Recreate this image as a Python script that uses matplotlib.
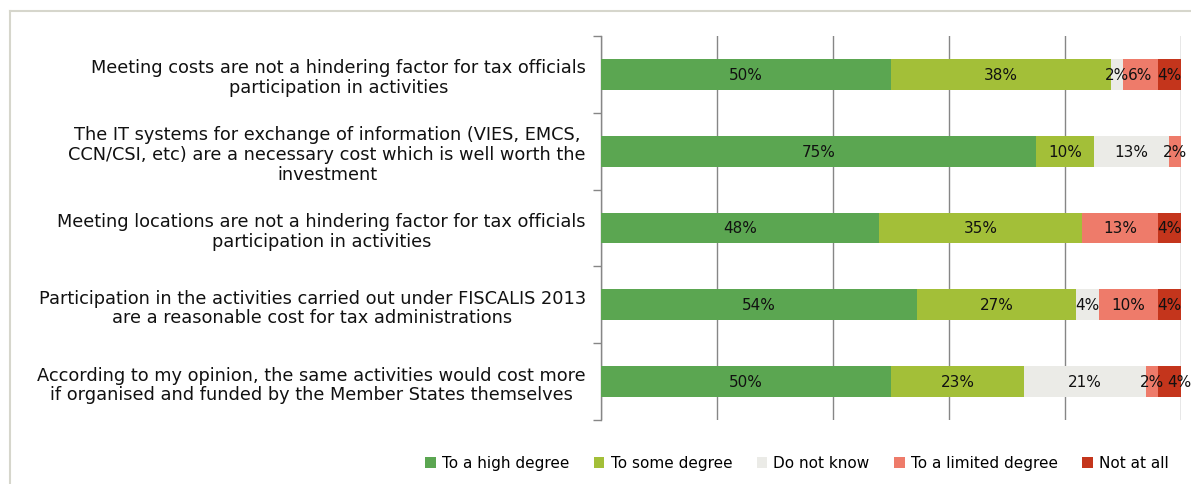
import matplotlib
matplotlib.use("Agg")
import matplotlib.pyplot as plt
from matplotlib.patches import Patch
from matplotlib.lines import Line2D
import numpy as np

categories = [
    "Meeting costs are not a hindering factor for tax officials\nparticipation in activities",
    "The IT systems for exchange of information (VIES, EMCS,\nCCN/CSI, etc) are a necessary cost which is well worth the\ninvestment",
    "Meeting locations are not a hindering factor for tax officials\nparticipation in activities",
    "Participation in the activities carried out under FISCALIS 2013\nare a reasonable cost for tax administrations",
    "According to my opinion, the same activities would cost more\nif organised and funded by the Member States themselves",
]
series_names = ["To a high degree", "To some degree", "Do not know",
                "To a limited degree", "Not at all"]
high_degree = [50, 75, 48, 54, 50]
some_degree = [38, 10, 35, 27, 23]
do_not_know = [2, 13, 0, 4, 21]
limited_degree = [6, 2, 13, 10, 2]
not_at_all = [4, 0, 4, 4, 4]

colors = ["#5BA651", "#A3BF38", "#EBEBE7", "#EE7B6A", "#C4351C"]

W, H = 1191, 485
fig = plt.figure(figsize=(W / 100, H / 100), dpi=100)
fig.patch.set_facecolor("white")

# outer frame (top and left edges visible)
frame_col = "#D6D6CC"
fig.add_artist(Line2D([10 / W, 10 / W], [0, 1 - 12 / H], transform=fig.transFigure,
                      color=frame_col, lw=1.5))
fig.add_artist(Line2D([10 / W, 1], [1 - 12 / H, 1 - 12 / H], transform=fig.transFigure,
                      color=frame_col, lw=1.5))

ax = fig.add_axes([601 / W, 1 - 421 / H, 580 / W, 384 / H])

data = np.array([high_degree, some_degree, do_not_know, limited_degree, not_at_all], dtype=float)
# 100% stacked: each row is scaled to its total
totals = data.sum(axis=0)
shares = data / totals * 100

y = np.arange(len(categories))
left = np.zeros(len(categories))
for i in range(len(series_names)):
    ax.barh(y, shares[i], left=left, height=0.40, color=colors[i], zorder=3,
            label=series_names[i])
    for j in range(len(categories)):
        if data[i, j] > 0:
            # push a label right when the segment before it is very narrow
            dx = 0
            if i > 0 and 0 < data[i - 1, j] <= 2 and data[i, j] <= 4:
                dx = 7
            ax.annotate(f"{int(data[i, j])}%", (left[j] + shares[i, j] / 2, y[j]),
                        xytext=(dx, 0), textcoords="offset points",
                        ha="center", va="center", fontsize=11, color="#111111",
                        zorder=4, annotation_clip=False)
    left += shares[i]

ax.set_xlim(0, 100)
ax.set_ylim(len(categories) - 0.5, -0.5)
ax.set_xticks(np.arange(0, 101, 20))
ax.tick_params(axis="x", length=0, labelbottom=False)
ax.grid(axis="x", color="#868686", lw=1, zorder=0)
for s in ["top", "right", "bottom"]:
    ax.spines[s].set_visible(False)
ax.spines["left"].set_color("#868686")
ax.spines["left"].set_linewidth(1)

# category separators as ticks, labels at centres
ax.set_yticks(np.arange(-0.5, len(categories), 1), minor=False)
ax.set_yticklabels([])
ax.tick_params(axis="y", which="major", length=6, color="#868686", width=1)
ax.set_yticks(y, minor=True)
ax.set_yticklabels(categories, minor=True, fontsize=12.8, color="#111111",
                   linespacing=1.12)
ax.tick_params(axis="y", which="minor", length=0, pad=11)
for lab in ax.get_yticklabels(minor=True):
    lab.set_multialignment("center")

handles = [Patch(facecolor=c, edgecolor="none") for c in colors]
fig.legend(handles, series_names, loc="center", bbox_to_anchor=(797 / W, 1 - 464 / H),
           ncol=5, frameon=False, fontsize=11, handlelength=0.7, handleheight=0.7,
           handletextpad=0.4, columnspacing=1.6)

fig.savefig("out.png", dpi=100)
